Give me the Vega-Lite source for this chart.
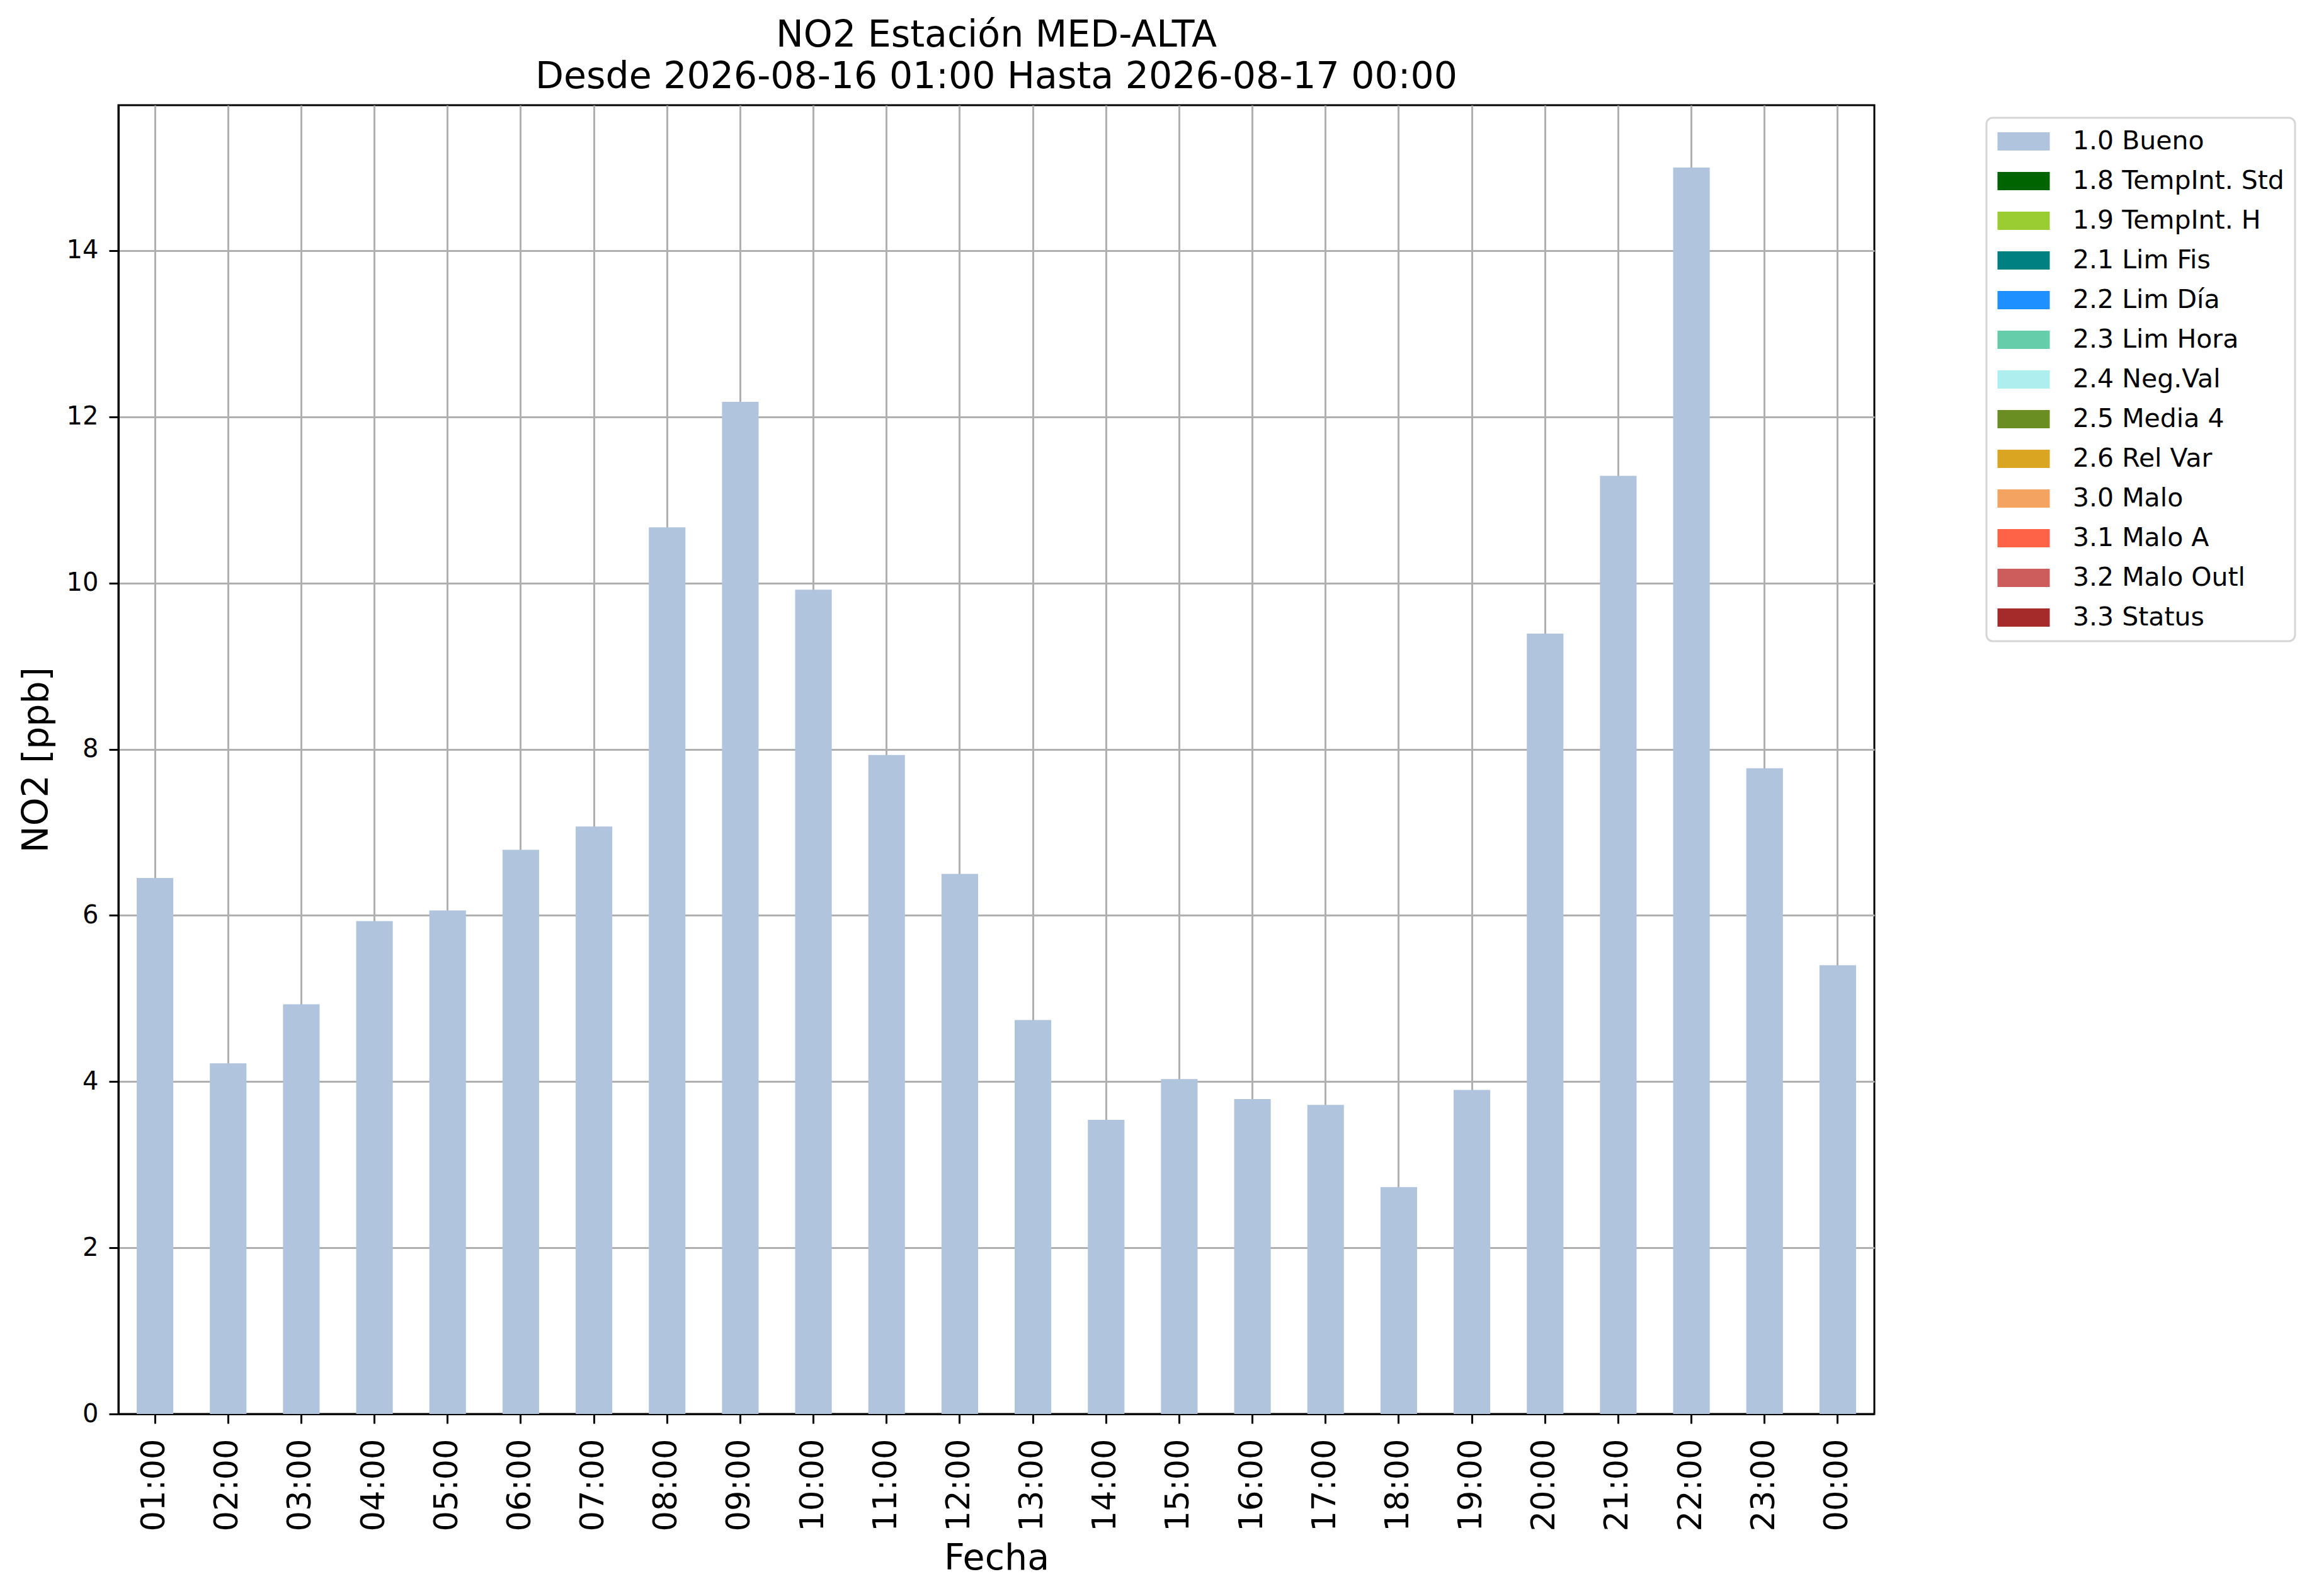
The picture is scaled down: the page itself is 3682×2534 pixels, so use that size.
{
  "$schema": "https://vega.github.io/schema/vega-lite/v6.json",
  "autosize": {"type": "none"},
  "padding": {"left": 188, "top": 167, "right": 706, "bottom": 289},
  "width": 2788,
  "height": 2078,
  "title": {
    "text": ["NO2 Estación MED-ALTA", "Desde 2026-08-16 01:00 Hasta 2026-08-17 00:00"],
    "fontSize": 58.5,
    "lineHeight": 66,
    "fontWeight": "normal",
    "font": "DejaVu Sans",
    "color": "black",
    "anchor": "middle",
    "frame": "group",
    "baseline": "alphabetic",
    "offset": -31
  },
  "config": {
    "font": "DejaVu Sans",
    "view": {"stroke": "black", "strokeWidth": 3},
    "axis": {
      "zindex": 1,
      "domainColor": "black",
      "domainWidth": 3,
      "tickColor": "black",
      "tickWidth": 3,
      "tickSize": 15,
      "gridColor": "#b0b0b0",
      "gridWidth": 3,
      "gridOpacity": 1,
      "labelColor": "black",
      "titleColor": "black",
      "titleFontWeight": "normal",
      "titleFontSize": 57
    }
  },
  "data": {
    "values": [
      {"hora": "01:00", "no2": 6.45, "flag": "1.0 Bueno"},
      {"hora": "02:00", "no2": 4.22, "flag": "1.0 Bueno"},
      {"hora": "03:00", "no2": 4.93, "flag": "1.0 Bueno"},
      {"hora": "04:00", "no2": 5.93, "flag": "1.0 Bueno"},
      {"hora": "05:00", "no2": 6.06, "flag": "1.0 Bueno"},
      {"hora": "06:00", "no2": 6.79, "flag": "1.0 Bueno"},
      {"hora": "07:00", "no2": 7.07, "flag": "1.0 Bueno"},
      {"hora": "08:00", "no2": 10.67, "flag": "1.0 Bueno"},
      {"hora": "09:00", "no2": 12.18, "flag": "1.0 Bueno"},
      {"hora": "10:00", "no2": 9.92, "flag": "1.0 Bueno"},
      {"hora": "11:00", "no2": 7.93, "flag": "1.0 Bueno"},
      {"hora": "12:00", "no2": 6.50, "flag": "1.0 Bueno"},
      {"hora": "13:00", "no2": 4.74, "flag": "1.0 Bueno"},
      {"hora": "14:00", "no2": 3.54, "flag": "1.0 Bueno"},
      {"hora": "15:00", "no2": 4.03, "flag": "1.0 Bueno"},
      {"hora": "16:00", "no2": 3.79, "flag": "1.0 Bueno"},
      {"hora": "17:00", "no2": 3.72, "flag": "1.0 Bueno"},
      {"hora": "18:00", "no2": 2.73, "flag": "1.0 Bueno"},
      {"hora": "19:00", "no2": 3.90, "flag": "1.0 Bueno"},
      {"hora": "20:00", "no2": 9.39, "flag": "1.0 Bueno"},
      {"hora": "21:00", "no2": 11.29, "flag": "1.0 Bueno"},
      {"hora": "22:00", "no2": 15.0, "flag": "1.0 Bueno"},
      {"hora": "23:00", "no2": 7.77, "flag": "1.0 Bueno"},
      {"hora": "00:00", "no2": 5.40, "flag": "1.0 Bueno"}
    ]
  },
  "mark": {"type": "bar"},
  "encoding": {
    "x": {
      "field": "hora",
      "type": "nominal",
      "sort": null,
      "scale": {"paddingInner": 0.5, "paddingOuter": 0.25},
      "axis": {
        "title": "Fecha",
        "titleX": 1394,
        "titleY": 246,
        "titleAlign": "center",
        "titleBaseline": "alphabetic",
        "labelAngle": -90,
        "labelFontSize": 51,
        "labelPadding": 24,
        "bandPosition": 0.5,
        "grid": true
      }
    },
    "y": {
      "field": "no2",
      "type": "quantitative",
      "scale": {"domain": [0, 15.75], "nice": false},
      "axis": {
        "title": "NO2 [ppb]",
        "values": [0, 2, 4, 6, 8, 10, 12, 14],
        "titleX": -113,
        "titleY": 1039,
        "titleAngle": 270,
        "titleAlign": "center",
        "titleBaseline": "alphabetic",
        "labelFontSize": 40,
        "labelPadding": 17,
        "grid": true
      }
    },
    "color": {
      "field": "flag",
      "type": "nominal",
      "scale": {
        "domain": ["1.0 Bueno", "1.8 TempInt. Std", "1.9 TempInt. H", "2.1 Lim Fis", "2.2 Lim Día", "2.3 Lim Hora", "2.4 Neg.Val", "2.5 Media 4", "2.6 Rel Var", "3.0 Malo", "3.1 Malo A", "3.2 Malo Outl", "3.3 Status"],
        "range": ["#b0c4de", "#006400", "#9acd32", "#008080", "#1e90ff", "#66cdaa", "#afeeee", "#6b8e23", "#daa520", "#f4a460", "#ff6347", "#cd5c5c", "#a52a2a"]
      },
      "legend": {
        "title": null,
        "orient": "none",
        "legendX": 2966,
        "legendY": 20,
        "symbolType": "M-1,-0.725L3.15,-0.725L3.15,0.725L-1,0.725Z",
        "symbolSize": 1600,
        "symbolStrokeWidth": 0,
        "symbolOpacity": 1,
        "labelFontSize": 41,
        "labelLimit": 0,
        "labelColor": "black",
        "labelOffset": 79,
        "rowPadding": 21,
        "padding": 17,
        "strokeColor": "#d6d6d6",
        "cornerRadius": 10,
        "fillColor": "white",
        "encode": {
          "legend": {"update": {"strokeWidth": {"value": 3}}}
        }
      }
    }
  }
}
